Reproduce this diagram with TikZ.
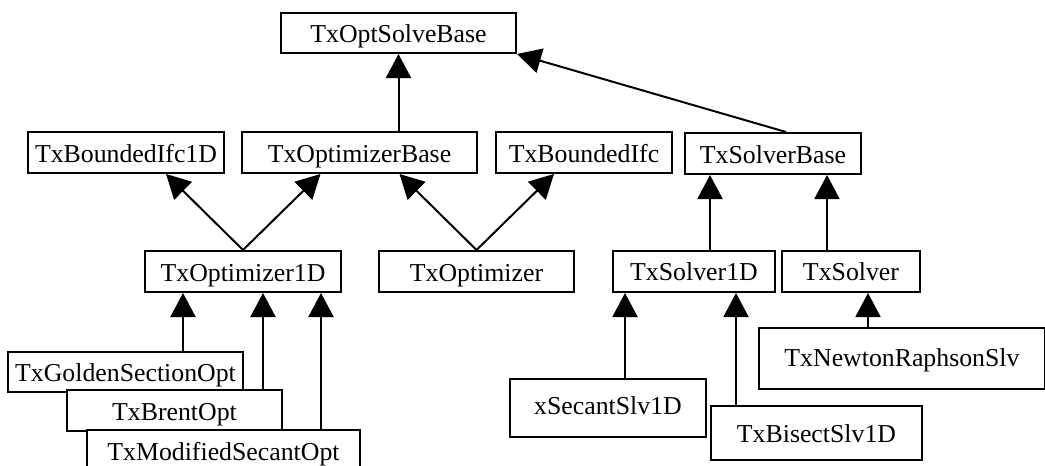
\documentclass[tikz,border=0pt]{standalone}
\usepackage{fontspec}
\setmainfont{Liberation Serif}
\usetikzlibrary{arrows.meta}

\begin{document}
\begin{tikzpicture}[x=1pt,y=-1pt,cls/.style={draw,line width=2pt,fill=white,inner sep=0pt,text height=19pt,text depth=0pt,font=\fontsize{25.8}{30}\selectfont},inh/.style={line width=2pt,-{Triangle[length=24pt,width=25pt]}}]
 \useasboundingbox (0,0) rectangle (1045,466);
 % base classes
 \node[cls,minimum width=235pt,minimum height=40pt] (optsolve) at (398.5,33) {TxOptSolveBase};
 \node[cls,minimum width=196pt,minimum height=41pt] (bnd1d) at (126,152.5) {TxBoundedIfc1D};
 \node[cls,minimum width=235pt,minimum height=41pt] (optbase) at (359.5,152.5) {TxOptimizerBase};
 \node[cls,minimum width=176pt,minimum height=41pt] (bnd) at (584,152.5) {TxBoundedIfc};
 \node[cls,minimum width=176pt,minimum height=41pt] (solvbase) at (773,153.5) {TxSolverBase};
 % middle row
 \node[cls,minimum width=196pt,minimum height=41pt] (opt1d) at (243,271.5) {TxOptimizer1D};
 \node[cls,minimum width=195pt,minimum height=41pt] (opt) at (476.5,271.5) {TxOptimizer};
 \node[cls,minimum width=162pt,minimum height=41pt,text height=17pt] (solv1d) at (694,271.5) {TxSolver1D};
 \node[cls,minimum width=138pt,minimum height=41pt,text height=17pt] (solv) at (851,271.5) {TxSolver\hspace{12pt}};
 % leaves
 \node[cls,minimum width=235pt,minimum height=40pt] (golden) at (125.5,372) {TxGoldenSectionOpt};
 \node[cls,minimum width=215pt,minimum height=41pt] (brent) at (174.5,410.5) {TxBrentOpt};
 \node[cls,minimum width=273pt,minimum height=42pt] (modsec) at (223.5,451) {TxModifiedSecantOpt};
 \node[cls,minimum width=196pt,minimum height=58pt,text height=13pt] (xsec) at (608,408) {xSecantSlv1D};
 \node[cls,minimum width=211pt,minimum height=54pt] (bisect) at (816.5,433) {TxBisectSlv1D};
 \node[cls,minimum width=286pt,minimum height=61pt,text height=16pt] (newton) at (902,358.5) {TxNewtonRaphsonSlv};
 % inheritance
 \draw[inh] (optbase.north -| optsolve.south) -- (optsolve.south);
 \draw[inh] ([xshift=13pt]solvbase.north) -- (optsolve.south east);
 \draw[inh] (opt1d.north) -- ([xshift=40pt]bnd1d.south);
 \draw[inh] (opt1d.north) -- ([xshift=-39pt]optbase.south);
 \draw[inh] (opt.north) -- ([xshift=40pt]optbase.south);
 \draw[inh] (opt.north) -- ([xshift=-30pt]bnd.south);
 \coordinate (s1) at ([xshift=16pt]solv1d.north);
 \coordinate (s2) at ([xshift=-24pt]solv.north);
 \draw[inh] (s1) -- (s1 |- solvbase.south);
 \draw[inh] (s2) -- (s2 |- solvbase.south);
 \coordinate (g1) at ([xshift=57.5pt]golden.north);
 \coordinate (b1) at ([xshift=88.5pt]brent.north);
 \coordinate (m1) at ([xshift=97.5pt]modsec.north);
 \draw[inh] (g1) -- (g1 |- opt1d.south);
 \draw[inh] (b1) -- (b1 |- opt1d.south);
 \draw[inh] (m1) -- (m1 |- opt1d.south);
 \coordinate (x1) at ([xshift=17pt]xsec.north);
 \coordinate (t1) at ([xshift=-80.5pt]bisect.north);
 \coordinate (n1) at ([xshift=-34pt]newton.north);
 \draw[inh] (x1) -- (x1 |- solv1d.south);
 \draw[inh] (t1) -- (t1 |- solv1d.south);
 \draw[inh] (n1) -- (n1 |- solv.south);
\end{tikzpicture}
\end{document}
